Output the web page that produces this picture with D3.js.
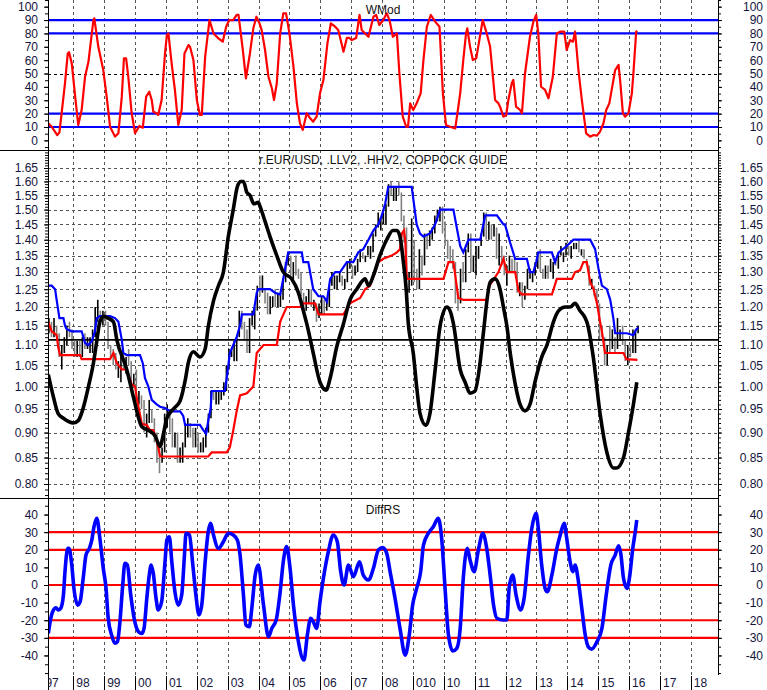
<!DOCTYPE html>
<html><head><meta charset="utf-8">
<script src="https://cdn.jsdelivr.net/npm/d3@7"></script>
<style>body{margin:0;background:#fff}svg{display:block}text{font-family:"Liberation Sans",Arial,sans-serif}</style>
</head><body><svg id="c" width="767" height="690"></svg>
<script>
// ---------- DATA ----------
const yearTicks = [1997,1998,1999,2000,2001,2002,2003,2004,2005,2006,2007,2008,2009,2010,2011,2012,2013,2014,2015,2016,2017,2018];
const yearLabels = ["97","98","99","00","01","02","03","04","05","06","07","08","010","10","11","12","13","14","15","16","17","18"];
const topTicks = [0,10,20,30,40,50,60,70,80,90,100];
const topMinor = [-5,0,5,10,15,20,25,30,35,40,45,50,55,60,65,70,75,80,85,90,95,100,105];
const wmodBands = [10,20,80,90];
const wmodMid = 50;
const midTicks = [0.80,0.85,0.90,0.95,1.00,1.05,1.10,1.15,1.20,1.25,1.30,1.35,1.40,1.45,1.50,1.55,1.60,1.65];
const botTicks = [-40,-30,-20,-10,0,10,20,30,40];
const botMinor = [-50,-45,-40,-35,-30,-25,-20,-15,-10,-5,0,5,10,15,20,25,30,35,40,45];
const diffBands = [30,20,0,-20,-30];
const guideLevel = 1.113;

const wmod = [[1997.19,12.7],[1997.30,10.2],[1997.48,4.0],[1997.55,6],[1997.62,20],[1997.73,42.7],[1997.82,65],[1997.86,66],[1997.95,57.6],[1998.06,32.7],[1998.16,11.5],[1998.27,22.7],[1998.38,47.6],[1998.49,58.8],[1998.65,90],[1998.68,91.3],[1998.81,70],[1998.97,52.6],[1999.08,32.7],[1999.19,10.2],[1999.35,2.8],[1999.46,5.3],[1999.57,32.7],[1999.64,61.4],[1999.71,61.4],[1999.78,47.6],[1999.89,20.3],[2000.00,5.3],[2000.14,10.8],[2000.25,9.5],[2000.36,32.7],[2000.46,36.4],[2000.54,30.2],[2000.59,21.5],[2000.70,20.3],[2000.75,19],[2000.86,30.2],[2000.97,65],[2001.03,78.8],[2001.08,80],[2001.19,56.4],[2001.29,37.7],[2001.40,11.5],[2001.51,22.7],[2001.60,65],[2001.73,71.3],[2001.78,70],[2001.89,60.1],[2002.00,30.2],[2002.10,19],[2002.16,19],[2002.27,62.6],[2002.41,90],[2002.54,80],[2002.70,76.3],[2002.84,73.8],[2002.95,85],[2003.05,90],[2003.18,90],[2003.29,93.8],[2003.35,93.8],[2003.49,67.6],[2003.59,46.4],[2003.72,65],[2003.83,83.8],[2003.93,92.5],[2004.03,87.5],[2004.10,82.5],[2004.21,67.6],[2004.32,47.6],[2004.43,39],[2004.50,30.2],[2004.59,42.7],[2004.70,80],[2004.80,95],[2004.89,95],[2005.00,80],[2005.13,55.1],[2005.24,27.7],[2005.34,12.8],[2005.43,7.8],[2005.56,20.3],[2005.67,16.5],[2005.77,14],[2005.88,17.7],[2005.99,35.2],[2006.10,45.2],[2006.23,72.6],[2006.34,87.5],[2006.48,85],[2006.58,82.5],[2006.66,75],[2006.75,66.3],[2006.86,76.6],[2006.94,76.6],[2007.02,75],[2007.16,76.6],[2007.27,93.8],[2007.34,82.5],[2007.45,80],[2007.56,77.5],[2007.72,92.5],[2007.81,93.8],[2007.91,86.3],[2008.04,90],[2008.15,95],[2008.24,90],[2008.35,77.5],[2008.48,80],[2008.56,50.2],[2008.67,17.7],[2008.78,10.2],[2008.84,10.2],[2008.91,27.7],[2009.01,22.7],[2009.12,27.7],[2009.25,35.2],[2009.34,60.1],[2009.45,85],[2009.58,93.8],[2009.72,88.8],[2009.86,85],[2009.97,35.2],[2010.07,11.5],[2010.20,10.2],[2010.37,9],[2010.44,20.3],[2010.53,35.2],[2010.63,60.1],[2010.72,80],[2010.76,83.8],[2010.85,70],[2010.94,60.1],[2011.05,61.4],[2011.15,75],[2011.26,90],[2011.39,80],[2011.50,70],[2011.66,30.2],[2011.77,27.7],[2011.82,25.2],[2011.93,17.7],[2012.02,19],[2012.09,30.2],[2012.20,42.7],[2012.25,45.2],[2012.34,25.2],[2012.47,22.7],[2012.53,20.3],[2012.63,50.2],[2012.79,77.5],[2012.90,88.8],[2012.99,93.8],[2013.06,80],[2013.15,40.1],[2013.28,37.7],[2013.39,31.5],[2013.53,47.6],[2013.66,80],[2013.77,81.3],[2013.90,81.3],[2013.98,67.6],[2014.09,75],[2014.18,73.8],[2014.25,81.3],[2014.36,52.6],[2014.47,30.2],[2014.61,5.3],[2014.74,2.8],[2014.85,4],[2014.96,3.5],[2015.06,6.5],[2015.17,12.8],[2015.26,22.7],[2015.36,27.7],[2015.55,52.6],[2015.66,56.4],[2015.71,45],[2015.80,20.3],[2015.87,17.7],[2015.98,20.3],[2016.09,35.2],[2016.14,50.2],[2016.23,81.3],[2016.27,81.8]];

const diffRS = [[1997.19,-27.5],[1997.25,-20.8],[1997.33,-15.2],[1997.44,-12.9],[1997.51,-14.2],[1997.59,-13.3],[1997.68,-5.7],[1997.73,7.6],[1997.82,20.8],[1997.86,20.8],[1997.95,11.4],[1998.02,-1.9],[1998.14,-11.4],[1998.22,-9.5],[1998.32,3.8],[1998.41,17],[1998.52,20.8],[1998.60,25.6],[1998.67,33.1],[1998.76,37.9],[1998.86,26.5],[1998.97,9.5],[1999.06,-1.9],[1999.13,-18.9],[1999.24,-28.4],[1999.35,-33.1],[1999.43,-32.2],[1999.51,-20.8],[1999.60,0],[1999.67,12.3],[1999.75,11.4],[1999.86,-5.7],[1999.97,-18.9],[2000.11,-26.5],[2000.22,-27.5],[2000.29,-24.6],[2000.38,-7.6],[2000.46,5.7],[2000.52,11.4],[2000.59,6.6],[2000.68,-7.6],[2000.75,-14.2],[2000.86,-9.5],[2000.97,13.2],[2001.03,25.6],[2001.11,27.4],[2001.19,13.2],[2001.29,-3.8],[2001.40,-11.4],[2001.51,-5.7],[2001.60,17],[2001.65,29.4],[2001.76,28.4],[2001.87,11.4],[2001.97,-5.7],[2002.07,-17],[2002.16,-11.4],[2002.27,13.2],[2002.37,30.3],[2002.45,35.1],[2002.54,28.4],[2002.70,20.8],[2002.86,24.6],[2003.02,29.4],[2003.18,28.4],[2003.31,25.6],[2003.40,17],[2003.51,-5.7],[2003.59,-22.7],[2003.70,-23.7],[2003.78,-13.3],[2003.89,5.7],[2003.99,11.4],[2004.16,-11.4],[2004.32,-29.4],[2004.43,-24.6],[2004.57,-19.9],[2004.70,-3.8],[2004.80,13.2],[2004.91,21.8],[2005.02,9.5],[2005.13,-11.4],[2005.29,-32.2],[2005.47,-42.6],[2005.58,-28.4],[2005.69,-18.9],[2005.77,-20.8],[2005.88,-24.6],[2005.99,-9.5],[2006.10,3.8],[2006.26,18.9],[2006.42,28.4],[2006.55,24.6],[2006.66,7.6],[2006.77,0],[2006.91,11.4],[2007.07,4.7],[2007.27,13.2],[2007.39,5.7],[2007.56,2.8],[2007.72,9.5],[2007.88,19.9],[2008.02,21.2],[2008.15,18],[2008.26,7.6],[2008.42,-7.6],[2008.58,-24.6],[2008.75,-39.8],[2008.88,-28.4],[2008.99,-11.4],[2009.12,-1.9],[2009.25,7.6],[2009.34,22.7],[2009.50,29.4],[2009.66,33.1],[2009.82,37.9],[2009.93,26.5],[2010.04,-1.9],[2010.15,-28.4],[2010.29,-37.5],[2010.42,-36],[2010.53,-24.6],[2010.63,3.8],[2010.76,20.8],[2010.85,14.2],[2010.98,7.6],[2011.12,19.9],[2011.26,29.4],[2011.39,20.8],[2011.50,5.7],[2011.61,-11.4],[2011.72,-18.9],[2011.93,-19.9],[2012.04,-19.9],[2012.12,-1],[2012.23,5.7],[2012.34,-5.7],[2012.49,-14.2],[2012.60,-7.6],[2012.74,17],[2012.85,32.2],[2012.99,40.7],[2013.06,32.2],[2013.17,11.4],[2013.28,-1.9],[2013.35,-3.8],[2013.50,5.7],[2013.66,20.8],[2013.77,28.4],[2013.90,35.1],[2013.98,26.5],[2014.09,13.2],[2014.18,7.6],[2014.25,11.4],[2014.36,1.9],[2014.47,-13.3],[2014.58,-28.4],[2014.68,-35.1],[2014.79,-36.4],[2014.96,-32.2],[2015.12,-24.6],[2015.26,-5.7],[2015.41,11.4],[2015.55,17],[2015.66,22.3],[2015.73,18],[2015.82,3.8],[2015.93,-1.9],[2016.01,3.8],[2016.12,20.8],[2016.20,30.3],[2016.25,36.9]];

const coppock = [[1997.19,1.028],[1997.35,0.978],[1997.51,0.94],[1997.68,0.93],[1998.00,0.92],[1998.16,0.925],[1998.32,0.952],[1998.49,1.0],[1998.65,1.055],[1998.76,1.11],[1998.86,1.16],[1998.99,1.175],[1999.12,1.17],[1999.30,1.16],[1999.41,1.113],[1999.73,1.04],[1999.94,0.978],[2000.22,0.912],[2000.43,0.905],[2000.65,0.893],[2000.81,0.872],[2000.92,0.898],[2001.03,0.93],[2001.24,0.95],[2001.46,0.968],[2001.62,1.013],[2001.73,1.058],[2001.89,1.083],[2002.10,1.07],[2002.27,1.09],[2002.37,1.147],[2002.54,1.217],[2002.70,1.26],[2002.86,1.30],[2003.02,1.41],[2003.18,1.50],[2003.31,1.58],[2003.42,1.60],[2003.51,1.60],[2003.62,1.56],[2003.72,1.55],[2003.85,1.52],[2003.99,1.525],[2004.05,1.51],[2004.21,1.46],[2004.37,1.41],[2004.59,1.35],[2004.80,1.30],[2005.07,1.28],[2005.29,1.24],[2005.45,1.19],[2005.56,1.155],[2005.77,1.08],[2005.99,1.01],[2006.19,0.992],[2006.32,1.02],[2006.53,1.095],[2006.75,1.155],[2006.96,1.22],[2007.18,1.25],[2007.45,1.28],[2007.56,1.26],[2007.72,1.29],[2007.93,1.35],[2008.15,1.40],[2008.35,1.43],[2008.48,1.43],[2008.58,1.41],[2008.69,1.33],[2008.78,1.25],[2008.85,1.155],[2009.01,1.08],[2009.12,1.0],[2009.23,0.94],[2009.42,0.915],[2009.55,0.94],[2009.72,1.04],[2009.88,1.15],[2010.10,1.20],[2010.20,1.19],[2010.31,1.155],[2010.53,1.04],[2010.69,1.01],[2010.85,0.985],[2011.01,0.99],[2011.18,1.06],[2011.28,1.13],[2011.50,1.27],[2011.66,1.28],[2011.82,1.25],[2011.93,1.20],[2012.04,1.15],[2012.15,1.08],[2012.31,1.007],[2012.47,0.96],[2012.63,0.946],[2012.79,0.96],[2012.96,1.013],[2013.17,1.07],[2013.34,1.10],[2013.55,1.16],[2013.72,1.19],[2013.93,1.20],[2014.09,1.20],[2014.25,1.21],[2014.41,1.19],[2014.58,1.17],[2014.65,1.155],[2014.84,1.07],[2015.06,0.94],[2015.28,0.86],[2015.49,0.83],[2015.60,0.83],[2015.82,0.85],[2015.98,0.90],[2016.14,0.96],[2016.25,1.01]];

const hhv2 = [[1997.19,1.26],[1997.30,1.26],[1997.41,1.25],[1997.46,1.22],[1997.55,1.17],[1997.68,1.17],[1997.73,1.15],[1997.79,1.14],[1997.95,1.135],[1998.27,1.135],[1998.38,1.105],[1998.49,1.10],[1998.60,1.11],[1998.70,1.135],[1998.76,1.17],[1998.86,1.175],[1999.19,1.175],[1999.35,1.17],[1999.46,1.16],[1999.57,1.113],[1999.62,1.08],[1999.73,1.075],[2000.16,1.075],[2000.25,1.055],[2000.32,1.02],[2000.43,1.0],[2000.54,0.97],[2000.70,0.96],[2000.81,0.955],[2000.97,0.952],[2001.13,0.945],[2001.46,0.945],[2001.56,0.935],[2001.62,0.916],[2002.10,0.916],[2002.21,0.905],[2002.30,0.898],[2002.37,0.925],[2002.45,0.952],[2002.48,0.99],[2002.91,0.99],[2002.97,1.02],[2003.07,1.08],[2003.18,1.10],[2003.29,1.12],[2003.40,1.15],[2003.46,1.18],[2003.83,1.18],[2003.94,1.24],[2003.99,1.25],[2004.37,1.25],[2004.53,1.24],[2004.70,1.235],[2004.80,1.28],[2004.96,1.36],[2005.40,1.36],[2005.45,1.33],[2005.61,1.33],[2005.77,1.25],[2005.94,1.23],[2006.10,1.23],[2006.21,1.215],[2006.32,1.28],[2006.48,1.30],[2006.64,1.30],[2006.86,1.33],[2007.07,1.33],[2007.23,1.36],[2007.39,1.37],[2007.56,1.40],[2007.72,1.43],[2007.88,1.45],[2007.99,1.48],[2008.10,1.52],[2008.20,1.58],[2008.96,1.58],[2009.12,1.45],[2009.23,1.42],[2009.34,1.41],[2009.55,1.42],[2009.72,1.45],[2009.88,1.50],[2010.31,1.50],[2010.53,1.38],[2010.63,1.36],[2010.80,1.40],[2011.18,1.40],[2011.34,1.48],[2011.72,1.48],[2011.93,1.45],[2011.98,1.45],[2012.15,1.39],[2012.31,1.34],[2012.69,1.34],[2012.79,1.30],[2012.90,1.30],[2012.99,1.33],[2013.06,1.36],[2013.50,1.36],[2013.60,1.33],[2013.72,1.36],[2013.98,1.38],[2014.20,1.40],[2014.74,1.40],[2014.90,1.37],[2015.01,1.31],[2015.12,1.26],[2015.28,1.25],[2015.39,1.22],[2015.49,1.17],[2015.55,1.13],[2015.93,1.13],[2016.14,1.125],[2016.23,1.14],[2016.30,1.145]];

const llv2 = [[1997.19,1.16],[1997.30,1.135],[1997.46,1.125],[1997.51,1.095],[1997.57,1.075],[1998.22,1.075],[1998.27,1.065],[1999.19,1.065],[1999.30,1.08],[1999.41,1.055],[1999.57,1.04],[1999.73,1.04],[1999.89,1.005],[2000.00,1.0],[2000.07,0.968],[2000.22,0.918],[2000.38,0.916],[2000.48,0.905],[2000.59,0.905],[2000.70,0.885],[2000.81,0.852],[2002.37,0.852],[2002.48,0.86],[2002.97,0.86],[2003.07,0.87],[2003.18,0.905],[2003.29,0.945],[2003.40,0.98],[2003.62,0.985],[2003.83,1.0],[2003.94,1.08],[2004.05,1.09],[2004.16,1.10],[2004.59,1.10],[2004.70,1.16],[2004.75,1.17],[2004.91,1.20],[2005.34,1.20],[2005.45,1.21],[2005.83,1.21],[2005.94,1.18],[2006.75,1.18],[2006.96,1.21],[2007.29,1.225],[2007.45,1.25],[2007.61,1.26],[2007.77,1.30],[2007.88,1.33],[2008.04,1.34],[2008.31,1.35],[2008.48,1.36],[2008.58,1.37],[2008.64,1.42],[2008.71,1.43],[2008.75,1.40],[2008.80,1.28],[2009.99,1.28],[2010.15,1.33],[2010.31,1.33],[2010.37,1.29],[2010.47,1.225],[2010.63,1.22],[2011.39,1.22],[2011.48,1.26],[2011.77,1.30],[2011.93,1.34],[2012.04,1.30],[2012.31,1.30],[2012.42,1.245],[2012.53,1.235],[2013.50,1.235],[2013.66,1.28],[2014.15,1.28],[2014.25,1.30],[2014.41,1.305],[2014.52,1.33],[2014.63,1.33],[2014.74,1.27],[2014.85,1.25],[2014.96,1.21],[2015.06,1.16],[2015.12,1.135],[2015.22,1.08],[2015.82,1.08],[2015.91,1.065],[2016.27,1.063]];

// monthly EUR/USD bars, starting March 1997
const priceStart = 1997 + 2/12;
const priceHigh = [1.17,1.16,1.17,1.15,1.13,1.10,1.12,1.15,1.16,1.14,
1.11,1.11,1.11,1.12,1.13,1.12,1.12,1.14,1.20,1.22,1.19,1.19,
1.19,1.16,1.10,1.09,1.08,1.06,1.08,1.08,1.07,1.09,1.06,1.03,
1.04,0.99,0.98,0.97,0.94,0.97,0.95,0.93,0.90,0.88,0.87,0.94,
0.96,0.94,0.93,0.90,0.90,0.87,0.88,0.92,0.93,0.92,0.91,0.91,
0.90,0.88,0.89,0.91,0.94,0.99,0.99,0.99,0.99,0.99,1.01,1.05,
1.09,1.09,1.11,1.12,1.19,1.19,1.16,1.14,1.17,1.19,1.20,1.26,
1.29,1.29,1.25,1.24,1.23,1.23,1.25,1.24,1.24,1.28,1.33,1.36,
1.35,1.33,1.35,1.31,1.30,1.24,1.23,1.25,1.25,1.22,1.21,1.21,
1.23,1.22,1.22,1.26,1.30,1.29,1.29,1.30,1.29,1.28,1.33,1.34,
1.32,1.32,1.34,1.37,1.36,1.35,1.38,1.38,1.42,1.45,1.49,1.47,
1.49,1.52,1.59,1.60,1.58,1.58,1.60,1.56,1.48,1.44,1.30,1.47,
1.40,1.31,1.37,1.35,1.42,1.42,1.43,1.44,1.48,1.50,1.51,1.51,
1.46,1.40,1.38,1.37,1.33,1.24,1.31,1.33,1.37,1.42,1.42,1.35,
1.38,1.38,1.42,1.49,1.49,1.46,1.45,1.45,1.44,1.42,1.38,1.35,
1.32,1.35,1.34,1.34,1.33,1.27,1.27,1.26,1.31,1.31,1.30,1.33,
1.36,1.37,1.31,1.32,1.32,1.34,1.33,1.34,1.36,1.38,1.36,1.39,
1.38,1.38,1.39,1.39,1.40,1.37,1.37,1.34,1.32,1.28,1.26,1.25,
1.21,1.15,1.12,1.10,1.15,1.14,1.12,1.17,1.14,1.15,1.11,1.10,
1.10,1.14,1.14,1.15];
const priceLow = [1.13,1.12,1.12,1.12,1.07,1.04,1.08,1.10,1.12,1.09,
1.07,1.07,1.07,1.07,1.09,1.09,1.08,1.08,1.12,1.16,1.15,1.15,
1.15,1.09,1.07,1.05,1.04,1.02,1.01,1.04,1.03,1.05,1.00,1.00,
0.97,0.96,0.95,0.90,0.89,0.92,0.92,0.88,0.84,0.82,0.84,0.86,
0.91,0.90,0.87,0.87,0.84,0.84,0.84,0.87,0.89,0.89,0.87,0.87,
0.86,0.86,0.86,0.87,0.90,0.93,0.97,0.96,0.96,0.97,0.98,0.99,
1.04,1.07,1.06,1.06,1.12,1.14,1.11,1.08,1.08,1.15,1.14,1.19,
1.23,1.24,1.21,1.18,1.18,1.20,1.20,1.20,1.20,1.22,1.27,1.32,
1.29,1.28,1.29,1.28,1.23,1.19,1.19,1.21,1.20,1.19,1.16,1.17,
1.18,1.18,1.19,1.20,1.26,1.25,1.25,1.27,1.26,1.25,1.27,1.31,
1.28,1.29,1.30,1.33,1.34,1.33,1.35,1.34,1.36,1.41,1.44,1.43,
1.45,1.45,1.51,1.55,1.53,1.53,1.55,1.46,1.39,1.24,1.24,1.26,
1.27,1.25,1.25,1.29,1.32,1.37,1.38,1.40,1.42,1.46,1.46,1.42,
1.38,1.34,1.33,1.31,1.21,1.19,1.21,1.27,1.27,1.36,1.30,1.30,
1.29,1.34,1.38,1.41,1.40,1.40,1.40,1.41,1.34,1.32,1.32,1.29,
1.26,1.30,1.30,1.30,1.24,1.23,1.20,1.22,1.25,1.28,1.27,1.29,
1.31,1.30,1.28,1.28,1.28,1.30,1.28,1.32,1.31,1.35,1.33,1.35,
1.35,1.34,1.37,1.37,1.36,1.35,1.34,1.32,1.26,1.25,1.23,1.21,
1.11,1.12,1.05,1.05,1.08,1.09,1.08,1.09,1.11,1.10,1.06,1.05,
1.07,1.08,1.08,1.13];
const priceClose = [1.15,1.14,1.15,1.13,1.08,1.09,1.11,1.14,1.13,1.10,
1.08,1.09,1.08,1.11,1.10,1.10,1.11,1.13,1.19,1.19,1.16,1.17,
1.16,1.10,1.08,1.06,1.04,1.04,1.07,1.06,1.07,1.06,1.01,1.01,
0.97,0.97,0.96,0.91,0.93,0.95,0.93,0.89,0.88,0.85,0.87,0.94,
0.94,0.92,0.88,0.89,0.85,0.85,0.88,0.91,0.91,0.90,0.88,0.89,
0.86,0.87,0.87,0.90,0.93,0.99,0.98,0.98,0.99,0.99,0.99,1.05,
1.08,1.08,1.09,1.12,1.18,1.15,1.12,1.10,1.16,1.16,1.20,1.26,
1.25,1.25,1.23,1.20,1.22,1.22,1.20,1.22,1.24,1.28,1.33,1.36,
1.30,1.33,1.30,1.29,1.23,1.21,1.21,1.23,1.20,1.20,1.18,1.18,
1.21,1.19,1.21,1.26,1.28,1.28,1.28,1.28,1.27,1.28,1.32,1.32,
1.30,1.32,1.34,1.36,1.35,1.35,1.37,1.37,1.42,1.45,1.46,1.46,
1.48,1.52,1.58,1.56,1.56,1.58,1.56,1.47,1.44,1.27,1.27,1.40,
1.28,1.27,1.33,1.32,1.41,1.40,1.41,1.43,1.46,1.48,1.50,1.43,
1.39,1.36,1.35,1.33,1.23,1.22,1.30,1.27,1.36,1.39,1.30,1.34,
1.37,1.38,1.42,1.48,1.44,1.45,1.44,1.44,1.34,1.39,1.34,1.30,
1.31,1.34,1.33,1.32,1.24,1.27,1.23,1.26,1.29,1.30,1.30,1.32,
1.36,1.31,1.28,1.32,1.30,1.30,1.33,1.32,1.35,1.36,1.36,1.38,
1.35,1.38,1.38,1.38,1.36,1.37,1.34,1.32,1.26,1.26,1.25,1.21,
1.13,1.12,1.08,1.12,1.10,1.12,1.10,1.12,1.12,1.10,1.06,1.09,
1.08,1.09,1.14,1.14];

// ---------- CHART ----------
const svg = d3.select("#c");
const PL = 48, PR = 718;
const TXT = "#14143c";
const x = d3.scaleLinear().domain([1997.18, 2018.88]).range([PL, PR]);
const yTop = d3.scaleLinear().domain([-7.2, 105]).range([150, 0]);
const yMid = d3.scaleLog().domain([0.80, 1.65]).range([484, 168]);
const yBot = d3.scaleLinear().domain([-51.1, 49.4]).range([675, 498]);

const panels = [["cTop",0,150],["cMid",150,498],["cBot",498,675]];
const defs = svg.append("defs");
panels.forEach(([id,a,b]) => defs.append("clipPath").attr("id",id)
  .append("rect").attr("x",PL).attr("y",a).attr("width",PR-PL).attr("height",b-a));
defs.append("clipPath").attr("id","cLab").append("rect").attr("x",PL).attr("y",675).attr("width",720).attr("height",20);

// vertical dashed grid in each panel
panels.forEach(([id,a,b]) => {
  svg.append("g").selectAll("line").data(yearTicks.slice(1)).join("line")
    .attr("x1",d=>Math.round(x(d))+0.5).attr("x2",d=>Math.round(x(d))+0.5)
    .attr("y1",a).attr("y2",b)
    .attr("stroke","#555").attr("stroke-dasharray","3,3").attr("stroke-width",1);
});
// mid horizontal dashed grid
svg.append("g").selectAll("line").data(midTicks).join("line")
  .attr("x1",PL).attr("x2",PR)
  .attr("y1",d=>Math.round(yMid(d))+0.5).attr("y2",d=>Math.round(yMid(d))+0.5)
  .attr("stroke","#555").attr("stroke-dasharray","3,3");

// ----- top panel -----
const gT = svg.append("g").attr("clip-path","url(#cTop)");
gT.append("line").attr("x1",PL).attr("x2",PR).attr("y1",Math.round(yTop(wmodMid))+0.5).attr("y2",Math.round(yTop(wmodMid))+0.5)
  .attr("stroke","#000").attr("stroke-dasharray","3,3");
gT.selectAll(".band").data(wmodBands).join("line")
  .attr("x1",PL).attr("x2",PR).attr("y1",d=>yTop(d)).attr("y2",d=>yTop(d))
  .attr("stroke","#0000ff").attr("stroke-width",2.2);
gT.append("path").datum(wmod)
  .attr("d",d3.line().x(d=>x(d[0])).y(d=>yTop(d[1])))
  .attr("fill","none").attr("stroke","#ff0000").attr("stroke-width",2.2).attr("stroke-linejoin","round");

// ----- middle panel -----
const gM = svg.append("g").attr("clip-path","url(#cMid)");
const bars = priceHigh.map((h,i)=>({t: priceStart + (i+0.5)/12, h, l: priceLow[i], up: i===0 || priceClose[i] >= priceClose[i-1]}));
gM.selectAll(".bar").data(bars).join("line")
  .attr("x1",d=>x(d.t)).attr("x2",d=>x(d.t))
  .attr("y1",d=>yMid(d.h)).attr("y2",d=>yMid(d.l))
  .attr("stroke",d=>d.up?"#000":"#808080").attr("stroke-width",1.6);
gM.append("line").attr("x1",PL).attr("x2",PR).attr("y1",yMid(guideLevel)).attr("y2",yMid(guideLevel))
  .attr("stroke","#000").attr("stroke-width",1.8);
const lineMid = d3.line().x(d=>x(d[0])).y(d=>yMid(d[1]));
gM.append("path").datum(llv2).attr("d",lineMid).attr("fill","none").attr("stroke","#ff0000").attr("stroke-width",2.2);
gM.append("path").datum(hhv2).attr("d",lineMid).attr("fill","none").attr("stroke","#0000ff").attr("stroke-width",2.2);
gM.append("path").datum(coppock).attr("d",lineMid.curve(d3.curveMonotoneX)).attr("fill","none")
  .attr("stroke","#000").attr("stroke-width",3.6).attr("stroke-linejoin","round");

// ----- bottom panel -----
const gB = svg.append("g").attr("clip-path","url(#cBot)");
gB.selectAll(".band").data(diffBands).join("line")
  .attr("x1",PL).attr("x2",PR).attr("y1",d=>yBot(d)).attr("y2",d=>yBot(d))
  .attr("stroke","#ff0000").attr("stroke-width",2.2);
gB.append("path").datum(diffRS)
  .attr("d",d3.line().x(d=>x(d[0])).y(d=>yBot(d[1])).curve(d3.curveMonotoneX))
  .attr("fill","none").attr("stroke","#0000ff").attr("stroke-width",3.6).attr("stroke-linejoin","round");

// ----- axes -----
function axes(scale, majors, minors, fmt){
  [[d3.axisLeft, PL, "end", -10],[d3.axisRight, PR, "end", 45]].forEach(([ax, xp, anchor, tx])=>{
    svg.append("g").attr("transform",`translate(${xp},0)`)
      .call(ax(scale).tickValues(minors).tickSize(3).tickFormat(""))
      .call(g=>g.select(".domain").remove())
      .call(g=>g.selectAll("line").attr("stroke","#000"));
    svg.append("g").attr("transform",`translate(${xp},0)`)
      .call(ax(scale).tickValues(majors).tickSize(4).tickFormat(fmt))
      .call(g=>g.select(".domain").remove())
      .call(g=>g.selectAll("line").attr("stroke","#000"))
      .call(g=>g.selectAll("text").attr("x",tx).attr("text-anchor",anchor)
        .attr("font-size",12).attr("fill",TXT).attr("font-family","Liberation Sans, Arial, sans-serif"));
  });
}
axes(yTop, topTicks, topMinor, d=>String(d));
axes(yMid, midTicks, d3.range(78,172).map(i=>i/100), d3.format(".2f"));
axes(yBot, botTicks, botMinor, d=>String(d));

// frame lines
svg.append("line").attr("x1",PL+0.5).attr("x2",PL+0.5).attr("y1",0).attr("y2",690).attr("stroke","#000");
svg.append("line").attr("x1",PR+0.5).attr("x2",PR+0.5).attr("y1",0).attr("y2",675).attr("stroke","#000");
[150,498].forEach(y=>svg.append("line").attr("x1",0).attr("x2",PR).attr("y1",y+0.5).attr("y2",y+0.5).attr("stroke","#000"));

// x labels
const gX = svg.append("g").attr("clip-path","url(#cLab)");
gX.selectAll("line").data(yearTicks).join("line")
  .attr("x1",d=>Math.round(x(d))+0.5).attr("x2",d=>Math.round(x(d))+0.5)
  .attr("y1",676).attr("y2",690).attr("stroke","#000");
gX.selectAll("text").data(yearTicks).join("text")
  .attr("x",d=>x(d)+3).attr("y",687).attr("font-size",12).attr("fill",TXT)
  .text((d,i)=>yearLabels[i]);

// titles
[["WMod",14],["r.EUR/USD, .LLV2, .HHV2, COPPOCK GUIDE",164],["DiffRS",514]].forEach(([t,y])=>
  svg.append("text").attr("x",(PL+PR)/2).attr("y",y).attr("text-anchor","middle")
    .attr("font-size",12).attr("fill","#111").text(t));
</script></body></html>
